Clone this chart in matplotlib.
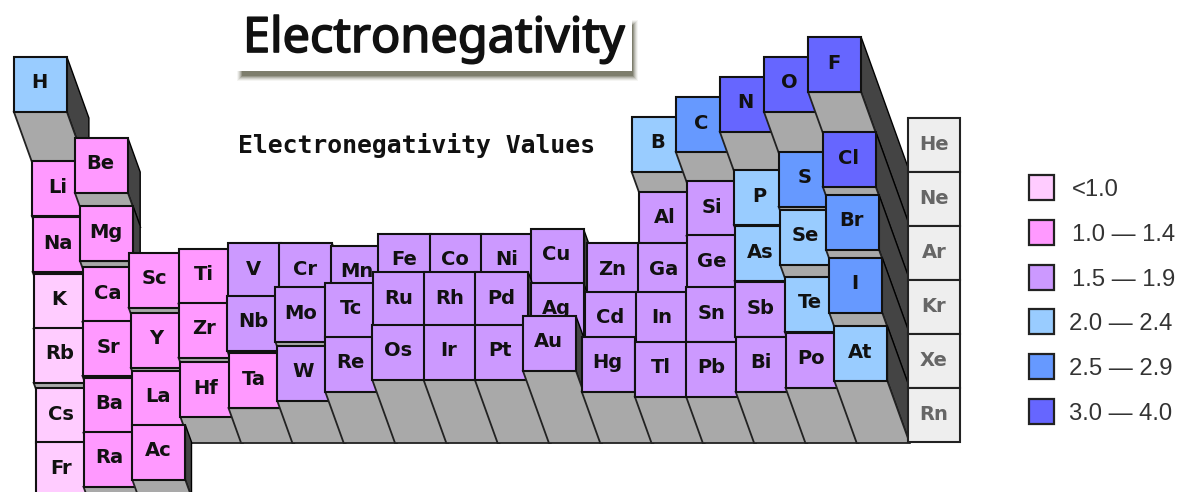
import matplotlib
matplotlib.use("Agg")
import matplotlib.pyplot as plt
import matplotlib.patheffects as pe
from matplotlib.patches import Polygon, Rectangle

# values, class = colour band the tile has in the picture
row1_sym = ["H"]
row1_col = [1]
row1_val = [2.21]
row1_cls = [3]

row2_sym = ["Li", "Be", "B", "C", "N", "O", "F"]
row2_col = [1, 2, 13, 14, 15, 16, 17]
row2_val = [0.97, 1.54, 2.06, 2.55, 3.05, 3.54, 4.03]
row2_cls = [1, 1, 3, 4, 5, 5, 5]

row3_sym = ["Na", "Mg", "Al", "Si", "P", "S", "Cl"]
row3_col = [1, 2, 13, 14, 15, 16, 17]
row3_val = [0.92, 1.19, 1.54, 1.81, 2.08, 2.53, 3.02]
row3_cls = [1, 1, 2, 2, 3, 4, 5]

row4_sym = ["K", "Ca", "Sc", "Ti", "V", "Cr", "Mn", "Fe", "Co", "Ni", "Cu", "Zn", "Ga", "Ge", "As", "Se", "Br"]
row4_col = list(range(1, 18))
row4_val = [0.85, 1.02, 1.37, 1.47, 1.61, 1.61, 1.54, 1.84, 1.84, 1.84, 1.96, 1.61, 1.61, 1.81, 2.03, 2.43, 2.80]
row4_cls = [0, 1, 1, 1, 2, 2, 2, 2, 2, 2, 2, 2, 2, 2, 3, 3, 4]

row5_sym = ["Rb", "Sr", "Y", "Zr", "Nb", "Mo", "Tc", "Ru", "Rh", "Pd", "Ag", "Cd", "In", "Sn", "Sb", "Te", "I"]
row5_col = list(range(1, 18))
row5_val = [0.85, 1.02, 1.22, 1.47, 1.64, 1.86, 1.96, 2.23, 2.23, 2.23, 1.96, 1.74, 1.74, 1.86, 1.98, 2.11, 2.58]
row5_cls = [0, 1, 1, 1, 2, 2, 2, 2, 2, 2, 2, 2, 2, 2, 2, 3, 4]

row6_sym = ["Cs", "Ba", "La", "Hf", "Ta", "W", "Re", "Os", "Ir", "Pt", "Au", "Hg", "Tl", "Pb", "Bi", "Po", "At"]
row6_col = list(range(1, 18))
row6_val = [0.70, 0.95, 1.12, 1.34, 1.56, 1.74, 1.96, 2.26, 2.26, 2.26, 2.48, 1.96, 1.84, 1.84, 1.96, 2.06, 2.23]
row6_cls = [0, 1, 1, 1, 1, 2, 2, 2, 2, 2, 2, 2, 2, 2, 2, 2, 3]

row7_sym = ["Fr", "Ra", "Ac"]
row7_col = [1, 2, 3]
row7_val = [0.70, 0.95, 1.12]
row7_cls = [0, 1, 1]

noble = ["He", "Ne", "Ar", "Kr", "Xe", "Rn"]

band_colors = ["#FFCCFF", "#FF99FF", "#CC99FF", "#99CCFF", "#6699FF", "#6666FF"]
band_labels = ["<1.0", "1.0 \u2014 1.4", "1.5 \u2014 1.9", "2.0 \u2014 2.4", "2.5 \u2014 2.9", "3.0 \u2014 4.0"]

# projection of the block chart, in picture pixels
pitch_x = 51.3
pitch_y = 54
x18 = 908
y6 = 388
unit = 40.5     # px per electronegativity unit
base = 0.7      # value that sits on the floor
slant = 0.36
tile_w = 53
tile_h = 55

fig = plt.figure(figsize=(11.88, 4.92), dpi=100)
ax = fig.add_axes([0, 0, 1, 1])
ax.set_xlim(0, 1188)
ax.set_ylim(492, 0)
ax.axis("off")

z = 10


def draw_bar(sym, col, row, val, color):
    global z
    h = (val - base) * unit
    x = x18 - (18 - col) * pitch_x - slant * h
    y = y6 - (6 - row) * pitch_y - h
    dx = slant * h
    # dark side, grey front, then the coloured top
    ax.add_patch(Polygon([(x + tile_w, y), (x + tile_w + dx, y + h),
                          (x + tile_w + dx, y + h + tile_h), (x + tile_w, y + tile_h)],
                         fc="#444444", ec="black", lw=1.0, zorder=z))
    ax.add_patch(Polygon([(x, y + tile_h), (x + tile_w, y + tile_h),
                          (x + tile_w + dx, y + h + tile_h), (x + dx, y + h + tile_h)],
                         fc="#A9A9A9", ec="#222222", lw=1.3, zorder=z + 1))
    ax.add_patch(Rectangle((x, y), tile_w, tile_h, fc=color, ec="#111111", lw=1.5, zorder=z + 2))
    ax.text(x + tile_w / 2 - 1, y + tile_h / 2 - 1.5, sym, ha="center", va="center",
            fontsize=14, fontweight="bold", family="DejaVu Sans", color="#111111", zorder=z + 3)
    z += 4


rows = [(1, row1_sym, row1_col, row1_val, row1_cls),
        (2, row2_sym, row2_col, row2_val, row2_cls),
        (3, row3_sym, row3_col, row3_val, row3_cls),
        (4, row4_sym, row4_col, row4_val, row4_cls),
        (5, row5_sym, row5_col, row5_val, row5_cls),
        (6, row6_sym, row6_col, row6_val, row6_cls),
        (7, row7_sym, row7_col, row7_val, row7_cls)]

for row, syms, cols, vals, classes in rows:
    for sym, col, val, cls in zip(syms, cols, vals, classes):
        draw_bar(sym, col, row, val, band_colors[cls])

# noble gases lie flat on the floor, drawn last
for i, sym in enumerate(noble):
    y = y6 - (5 - i) * pitch_y
    ax.add_patch(Rectangle((x18, y), 52, pitch_y, fc="#EEEEEE", ec="#222222", lw=1.5, zorder=z))
    ax.text(x18 + 26, y + pitch_y / 2 - 1, sym, ha="center", va="center", fontsize=14,
            fontweight="bold", family="DejaVu Sans", color="#666666", zorder=z + 1)

# legend
for i, (color, label) in enumerate(zip(band_colors, band_labels)):
    y = 175 + i * 44.8
    ax.add_patch(Rectangle((1029, y), 25, 25, fc=color, ec="#222222", lw=1.6, zorder=z))
    lx = 1072 if i < 3 else 1069
    ax.text(lx, y + 15, label, ha="left", va="center", fontsize=17.2, family="Liberation Sans",
            color="#333333", zorder=z)

# title card with its soft shadow
for grow, alpha in [(4.5, 0.06), (3.5, 0.10), (2.5, 0.14), (1.5, 0.20), (0.5, 0.30), (-0.5, 0.4)]:
    ax.add_patch(Rectangle((241 - grow, 24 - grow), 392 + 2 * grow, 52 + 2 * grow, fc="#55553F",
                           ec="none", alpha=alpha, zorder=z + 2))
ax.add_patch(Rectangle((235, 6), 397, 65, fc="white", ec="none", zorder=z + 3))
ax.text(243, 52, "Electronegativity", ha="left", va="baseline", fontsize=35,
        family="Noto Sans", color="#111111", zorder=z + 4,
        path_effects=[pe.withStroke(linewidth=1.2, foreground="#111111")])
ax.text(238, 153, "Electronegativity Values", ha="left", va="baseline", fontsize=17.8,
        family="DejaVu Sans Mono", fontweight="bold", color="#111111", zorder=z + 4)

fig.savefig("out.png", dpi=100)
